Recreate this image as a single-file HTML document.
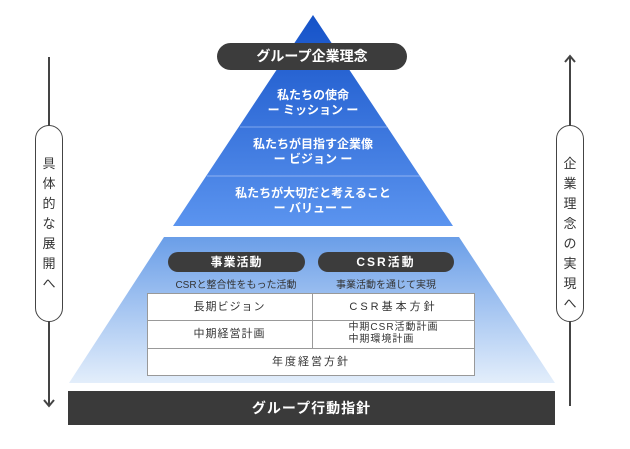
<!DOCTYPE html>
<html><head><meta charset="utf-8"><style>
body{margin:0;width:630px;height:449px;background:#fff;font-family:"Liberation Sans","Noto Sans CJK JP",sans-serif;overflow:hidden}
.a{position:absolute}
.t{position:absolute;text-align:center;color:#fff;font-weight:bold;font-size:12px;line-height:15px}
.pill{position:absolute;background:#3c3c3c;color:#fff;font-weight:bold;text-align:center;border-radius:14px}
.cell{position:absolute;display:flex;align-items:center;justify-content:center;font-size:11px;color:#333;letter-spacing:1px;line-height:12px;text-align:left}
.vt{position:absolute;width:28px;border:1.5px solid #444;border-radius:14px;background:#fff;box-sizing:border-box;text-align:center;font-size:13px;line-height:20px;color:#333;padding-top:28px}
</style></head><body>
<svg class="a" style="left:0;top:0" width="630" height="449">
<defs>
<linearGradient id="g1" x1="0" y1="0" x2="0" y2="1"><stop offset="0" stop-color="#1552c8"/><stop offset="1" stop-color="#5b94ef"/></linearGradient>
<linearGradient id="g2" x1="0" y1="0" x2="0" y2="1"><stop offset="0" stop-color="#6a9ee8"/><stop offset="1" stop-color="#e3eefb"/></linearGradient>
</defs>
<polygon points="313,15 453,226 173,226" fill="url(#g1)"/>
<line x1="240" y1="127" x2="387" y2="127" stroke="#7fa6ee" stroke-width="1"/>
<line x1="207" y1="176" x2="420" y2="176" stroke="#8fb2f2" stroke-width="1"/>
<polygon points="164,237 459,237 555,383 69,383" fill="url(#g2)"/>
<rect x="68" y="391" width="487" height="34" fill="#3a3a3a"/>
<line x1="49" y1="57" x2="49" y2="406" stroke="#444" stroke-width="2"/>
<polyline points="44,400 49,406 54,400" fill="none" stroke="#444" stroke-width="2"/>
<line x1="570" y1="56" x2="570" y2="406" stroke="#444" stroke-width="2"/>
<polyline points="565,62 570,56 575,62" fill="none" stroke="#444" stroke-width="2"/>
</svg>
<div class="pill" style="left:217px;top:43px;width:190px;height:27px;line-height:27px;font-size:14px">グループ企業理念</div>
<div class="t" style="left:213px;top:88px;width:200px">私たちの使命<br>ー ミッション ー</div>
<div class="t" style="left:203px;top:137px;width:220px">私たちが目指す企業像<br>ー ビジョン ー</div>
<div class="t" style="left:183px;top:186px;width:260px">私たちが大切だと考えること<br>ー バリュー ー</div>
<div class="pill" style="left:168px;top:252px;width:137px;height:20px;line-height:20px;font-size:12px;letter-spacing:1px">事業活動</div>
<div class="pill" style="left:318px;top:252px;width:136px;height:20px;line-height:20px;font-size:12px;letter-spacing:2px">CSR活動</div>
<div class="a" style="left:160px;top:276px;width:152px;text-align:center;font-size:10px;color:#333">CSRと整合性をもった活動</div>
<div class="a" style="left:318px;top:276px;width:136px;text-align:center;font-size:10px;color:#333">事業活動を通じて実現</div>
<div class="a" style="left:147px;top:293px;width:328px;height:83px;background:#fff;border:1px solid #999;box-sizing:border-box"></div>
<div class="a" style="left:147px;top:320px;width:328px;border-top:1px solid #999"></div>
<div class="a" style="left:147px;top:348px;width:328px;border-top:1px solid #999"></div>
<div class="a" style="left:312px;top:293px;height:55px;border-left:1px solid #999"></div>
<div class="cell" style="left:147px;top:293px;width:165px;height:27px">長期ビジョン</div>
<div class="cell" style="left:312px;top:293px;width:163px;height:27px;letter-spacing:3px">CSR基本方針</div>
<div class="cell" style="left:147px;top:320px;width:165px;height:28px">中期経営計画</div>
<div class="cell" style="left:312px;top:320px;width:163px;height:28px;font-size:10px">中期CSR活動計画<br>中期環境計画</div>
<div class="cell" style="left:147px;top:348px;width:328px;height:28px;letter-spacing:2px">年度経営方針</div>
<div class="a" style="left:68px;top:391px;width:487px;height:34px;line-height:34px;text-align:center;color:#fff;font-weight:bold;font-size:14px;letter-spacing:1px">グループ行動指針</div>
<div class="vt" style="left:35px;top:125px;height:197px">具<br>体<br>的<br>な<br>展<br>開<br>へ</div>
<div class="vt" style="left:556px;top:125px;height:197px">企<br>業<br>理<br>念<br>の<br>実<br>現<br>へ</div>
</body></html>
